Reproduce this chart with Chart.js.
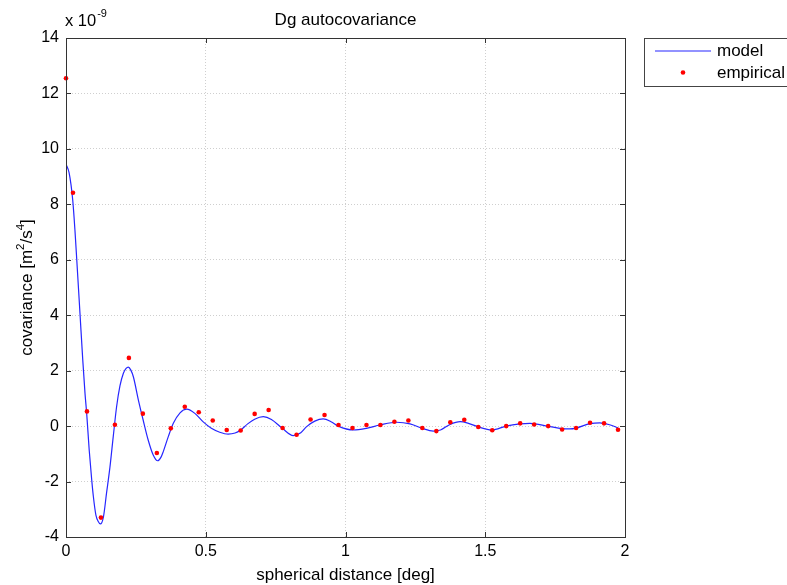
<!DOCTYPE html>
<html>
<head>
<meta charset="utf-8">
<script src="https://cdn.jsdelivr.net/npm/chart.js@4"></script>
<style>
  body { margin: 0; background: #fff; }
  canvas { display: block; }
</style>
</head>
<body>
<canvas id="chart" width="787" height="585"></canvas>
<script>
// values in units of 1e-9 m^2/s^4
const empiricalX = [0, 0.025, 0.075, 0.125, 0.175, 0.225, 0.275, 0.325, 0.375, 0.425, 0.475,
  0.525, 0.575, 0.625, 0.675, 0.725, 0.775, 0.825, 0.875, 0.925, 0.975,
  1.025, 1.075, 1.125, 1.175, 1.225, 1.275, 1.325, 1.375, 1.425, 1.475,
  1.525, 1.575, 1.625, 1.675, 1.725, 1.775, 1.825, 1.875, 1.925, 1.975]
const empiricalY = [12.55, 8.42, 0.53, -3.30, 0.05, 2.46, 0.45, -0.97, -0.08, 0.70, 0.50,
  0.20, -0.14, -0.16, 0.44, 0.58, -0.07, -0.31, 0.24, 0.40, 0.04,
  -0.07, 0.04, 0.04, 0.16, 0.20, -0.07, -0.18, 0.14, 0.23, -0.03,
  -0.15, 0.00, 0.10, 0.06, 0.00, -0.12, -0.07, 0.12, 0.10, -0.13]

const modelX = [0, 0.011, 0.024, 0.032, 0.040, 0.050, 0.060, 0.068, 0.074, 0.083, 0.092,
  0.098, 0.107, 0.116, 0.123, 0.134, 0.145, 0.157, 0.169, 0.181, 0.193,
  0.205, 0.215, 0.223, 0.232, 0.241, 0.259, 0.276, 0.294, 0.312, 0.328,
  0.340, 0.348, 0.366, 0.384, 0.408, 0.432, 0.461, 0.490, 0.520, 0.550,
  0.580, 0.605, 0.625, 0.650, 0.675, 0.706, 0.735, 0.774, 0.813, 0.840,
  0.861, 0.890, 0.920, 0.950, 0.974, 1.028, 1.075, 1.123, 1.183, 1.231,
  1.274, 1.314, 1.340, 1.374, 1.410, 1.440, 1.475, 1.524, 1.574, 1.624,
  1.660, 1.724, 1.775, 1.803, 1.825, 1.875, 1.910, 1.945, 1.975]
const modelY = [9.45, 9.14, 8.16, 7.07, 5.75, 4.07, 2.38, 1.18, 0.46, -0.86, -1.94,
  -2.55, -3.21, -3.45, -3.53, -3.27, -2.42, -1.50, -0.38, 0.70, 1.45,
  1.90, 2.08, 2.13, 2.02, 1.78, 0.94, 0.22, -0.50, -1.04, -1.25,
  -1.12, -0.92, -0.38, 0.10, 0.48, 0.61, 0.46, 0.16, -0.08, -0.22,
  -0.29, -0.25, -0.14, 0.08, 0.25, 0.34, 0.24, -0.08, -0.34, -0.24,
  -0.02, 0.18, 0.26, 0.15, 0.00, -0.14, -0.08, 0.04, 0.14, 0.08,
  -0.08, -0.18, -0.14, 0.06, 0.16, 0.10, -0.03, -0.14, 0.00, 0.08,
  0.10, 0.00, -0.09, -0.10, -0.07, 0.09, 0.12, 0.05, -0.06]

const xTicks = [0, 0.5, 1, 1.5, 2]
const yTicks = [-4, -2, 0, 2, 4, 6, 8, 10, 12, 14]

const FONT = "'Liberation Sans', Arial, sans-serif"
const BLUE = '#2626ff'

// draws box, inward ticks, titles and legend the MATLAB way
const matlabFrame = {
    id: 'matlabFrame',
    afterDraw(chart) {
        const ctx = chart.ctx
        const a = chart.chartArea
        const xs = chart.scales.x, ys = chart.scales.y
        ctx.save()
        ctx.strokeStyle = '#333'
        ctx.lineWidth = 1
        ctx.strokeRect(Math.round(a.left) + 0.5, Math.round(a.top) + 0.5,
            Math.round(a.right - a.left), Math.round(a.bottom - a.top))
        ctx.beginPath()
        xTicks.forEach(v => {
            const px = Math.round(xs.getPixelForValue(v)) + 0.5
            ctx.moveTo(px, a.bottom); ctx.lineTo(px, a.bottom - 5)
            ctx.moveTo(px, a.top); ctx.lineTo(px, a.top + 5)
        })
        yTicks.forEach(v => {
            const py = Math.round(ys.getPixelForValue(v)) + 0.5
            ctx.moveTo(a.left, py); ctx.lineTo(a.left + 5, py)
            ctx.moveTo(a.right, py); ctx.lineTo(a.right - 5, py)
        })
        ctx.stroke()

        ctx.fillStyle = '#000'
        ctx.textBaseline = 'middle'
        // title
        ctx.font = '17px ' + FONT
        ctx.textAlign = 'center'
        ctx.fillText('Dg autocovariance', (a.left + a.right) / 2, 20)
        // x axis title
        ctx.fillText('spherical distance [deg]', (a.left + a.right) / 2, 575)

        // exponent label
        ctx.textAlign = 'left'
        ctx.font = '16.5px ' + FONT
        ctx.fillText('x 10', a.left - 1, 21)
        const w = ctx.measureText('x 10').width
        ctx.font = '11px ' + FONT
        ctx.fillText('-9', a.left + w, 14)

        // y axis title, rotated, with superscripts
        ctx.translate(27, (a.top + a.bottom) / 2)
        ctx.rotate(-Math.PI / 2)
        const parts = [['covariance [m', false], ['2', true], ['/s', false], ['4', true], [']', false]]
        let total = 0
        parts.forEach(([t, sup]) => {
            ctx.font = (sup ? '11.5px ' : '17px ') + FONT
            total += ctx.measureText(t).width
        })
        let cx = -total / 2
        parts.forEach(([t, sup]) => {
            ctx.font = (sup ? '11.5px ' : '17px ') + FONT
            ctx.fillText(t, cx, sup ? -6 : 0)
            cx += ctx.measureText(t).width
        })
        ctx.restore()

        // legend
        ctx.save()
        ctx.fillStyle = '#fff'
        ctx.strokeStyle = '#444'
        ctx.lineWidth = 1
        ctx.fillRect(644, 38, 150, 48)
        ctx.strokeRect(644.5, 38.5, 150, 48)
        ctx.strokeStyle = BLUE
        ctx.lineWidth = 1.2
        ctx.beginPath()
        ctx.moveTo(655, 51); ctx.lineTo(711, 51)
        ctx.stroke()
        ctx.fillStyle = '#ff0000'
        ctx.beginPath()
        ctx.arc(683, 72.5, 2.3, 0, Math.PI * 2)
        ctx.fill()
        ctx.fillStyle = '#000'
        ctx.font = '17px ' + FONT
        ctx.textBaseline = 'middle'
        ctx.textAlign = 'left'
        ctx.fillText('model', 717, 51)
        ctx.fillText('empirical', 717, 73)
        ctx.restore()
    }
}

const empiricalData = empiricalX.map((x, i) => ({ x: x, y: empiricalY[i] }))
const modelData = modelX.map((x, i) => ({ x: x, y: modelY[i] }))

new Chart(document.getElementById('chart'), {
    type: 'scatter',
    data: {
        datasets: [
            {
                label: 'empirical',
                data: empiricalData,
                pointRadius: 2.3,
                pointBorderWidth: 0,
                pointBackgroundColor: '#ff0000',
                showLine: false,
                clip: false,
                order: 0
            },
            {
                label: 'model',
                data: modelData,
                showLine: true,
                borderColor: BLUE,
                borderWidth: 1.2,
                pointRadius: 0,
                cubicInterpolationMode: 'monotone',
                order: 1
            }
        ]
    },
    options: {
        responsive: false,
        animation: false,
        layout: { padding: { top: 38, right: 162, bottom: 0, left: 0 } },
        plugins: {
            legend: { display: false },
            tooltip: { enabled: false }
        },
        scales: {
            x: {
                type: 'linear',
                min: 0,
                max: 2,
                afterBuildTicks: s => { s.ticks = xTicks.map(v => ({ value: v })) },
                afterFit: s => { s.height = 48 },
                grid: { color: '#cfcfcf', drawTicks: false },
                border: { display: false, dash: [1, 2] },
                ticks: { color: '#000', padding: 5, font: { family: FONT, size: 16 }, callback: v => String(v) }
            },
            y: {
                type: 'linear',
                min: -4,
                max: 14,
                afterBuildTicks: s => { s.ticks = yTicks.map(v => ({ value: v })) },
                afterFit: s => { s.width = 66 },
                grid: { color: '#cfcfcf', drawTicks: false },
                border: { display: false, dash: [1, 2] },
                ticks: { color: '#000', padding: 7, font: { family: FONT, size: 16 }, callback: v => String(v) }
            }
        }
    },
    plugins: [matlabFrame]
})
</script>
</body>
</html>
